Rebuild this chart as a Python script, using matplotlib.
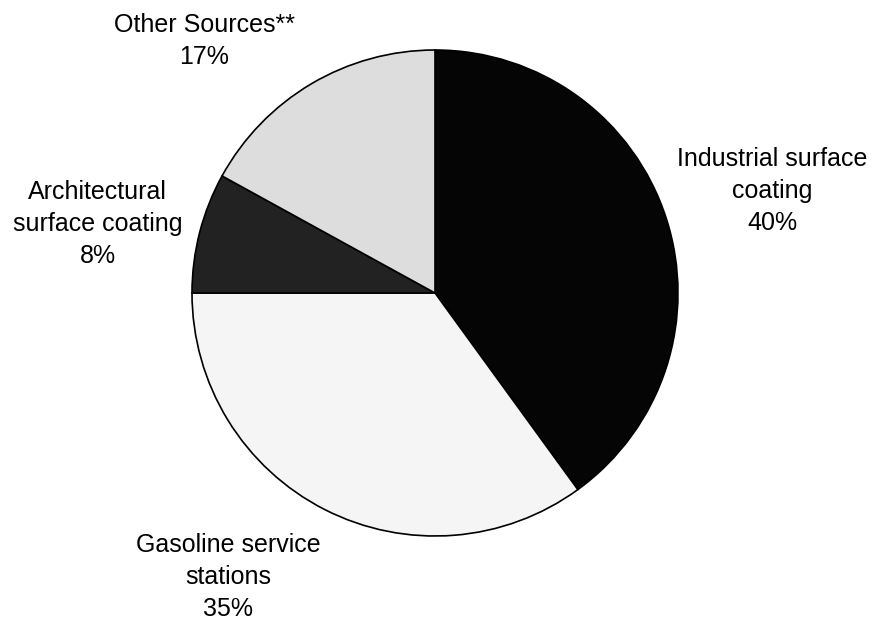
import matplotlib
matplotlib.use("Agg")
import matplotlib.pyplot as plt

plt.rcParams['font.family'] = ['Liberation Sans', 'DejaVu Sans']

labels = ["Industrial surface\ncoating", "Gasoline service\nstations",
          "Architectural\nsurface coating", "Other Sources**"]
shares = [40, 35, 8, 17]
colors = ["#050505", "#f5f5f5", "#222222", "#dddddd"]
# label centres in pie-radius units
label_pos = [(1.389, 0.42), (-0.852, -1.169), (-1.389, 0.284), (-0.95, 1.037)]

fig = plt.figure(figsize=(8.73, 6.21), dpi=100)
# pie centre at (435, 293) px, radius 243 px
ax = fig.add_axes([(435 - 243) / 873, (621 - 536) / 621, 486 / 873, 486 / 621])
ax.pie(shares, colors=colors, startangle=90, counterclock=False, radius=1,
       wedgeprops=dict(edgecolor="black", linewidth=1.2))
ax.set_xlim(-1, 1)
ax.set_ylim(-1, 1)
ax.axis("off")

for lab, s, (x, y) in zip(labels, shares, label_pos):
    ax.text(x, y, f"{lab}\n{s}%", ha="center", va="center", fontsize=18,
            linespacing=1.4, multialignment="center", clip_on=False)

fig.savefig("out.png", dpi=100)
